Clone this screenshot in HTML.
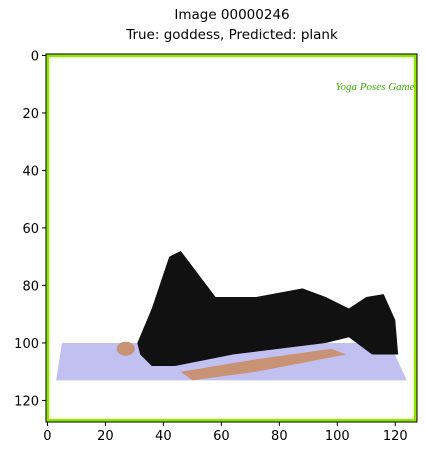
<!DOCTYPE html>
<html><head><style>
body{margin:0;background:#fff;width:425px;height:456px;overflow:hidden;font-family:"DejaVu Sans","Liberation Sans",sans-serif}
</style></head><body>
<svg width="425" height="456">
<text x="232" y="19" font-size="13.5" text-anchor="middle" font-family="DejaVu Sans, sans-serif">Image 00000246</text>
<text x="232" y="39" font-size="13.5" text-anchor="middle" font-family="DejaVu Sans, sans-serif">True: goddess, Predicted: plank</text>
<g id="img"></g>
<g id="axes"></g>
</svg>
<script>
const xTicks=[0,20,40,60,80,100,120];
const yTicks=[0,20,40,60,80,100,120];
const L=46,T=54,W=371,H=368,N=128;
const sx=v=>L+(v+0.5)*W/N, sy=v=>T+(v+0.5)*H/N;
const ns="http://www.w3.org/2000/svg";
const img=document.getElementById('img'), ax=document.getElementById('axes');
function mk(p,tag,a){const e=document.createElementNS(ns,tag);for(const k in a)e.setAttribute(k,a[k]);p.appendChild(e);return e;}
function pts(a){return a.map(p=>sx(p[0])+','+sy(p[1])).join(' ');}
let r=mk(img,'rect',{x:L,y:T,width:W,height:H,fill:'#8fe800'});

r=mk(img,'rect',{x:L+3,y:T+3,width:W-6,height:H-6,fill:'#f4ffd8'});

r=mk(img,'rect',{x:L+5,y:T+5,width:W-10,height:H-10,fill:'#fff'});

let m=mk(img,'polygon',{points:pts([[5,100],[118,100],[124,113],[3,113]]),fill:'#c2c0f0'});

let sk=mk(img,'g',{fill:'#c89274'});

mk(sk,'ellipse',{cx:sx(27),cy:sy(102),rx:9,ry:7});
mk(sk,'polygon',{points:pts([[46,110],[70,106],[98,102],[103,104],[72,110],[50,113]])});
mk(sk,'ellipse',{cx:sx(108),cy:sy(95),rx:12,ry:14});
let b=mk(img,'polygon',{points:pts([[31,100],[36,88],[42,70],[46,68],[52,76],[58,84],[72,84],[88,81],[96,84],[104,88],[110,84],[116,83],[120,92],[121,104],[112,104],[104,98],[96,100],[80,102],[64,104],[54,106],[44,108],[36,108],[32,104]]),fill:'#111'});

let lg=mk(img,'text',{x:sx(113),y:sy(12),'font-size':11,'font-style':'italic',fill:'#3cb000','text-anchor':'middle','font-family':'Liberation Serif, serif'});
lg.textContent='Yoga Poses Game';

let f=mk(ax,'rect',{x:L,y:T,width:W,height:H,fill:'none',stroke:'#000','stroke-width':1});

xTicks.forEach(v=>{const x=sx(v);
 mk(ax,'line',{x1:x,x2:x,y1:T+H,y2:T+H+4,stroke:'#000'});
 const t=mk(ax,'text',{x:x,y:T+H+18,'font-size':13,'text-anchor':'middle','font-family':'DejaVu Sans, sans-serif'});t.textContent=v;
 });
yTicks.forEach(v=>{const y=sy(v);
 mk(ax,'line',{x1:L-4,x2:L,y1:y,y2:y,stroke:'#000'});
 const t=mk(ax,'text',{x:L-7,y:y+5,'font-size':13,'text-anchor':'end','font-family':'DejaVu Sans, sans-serif'});t.textContent=v;
 });
</script>
</body></html>
